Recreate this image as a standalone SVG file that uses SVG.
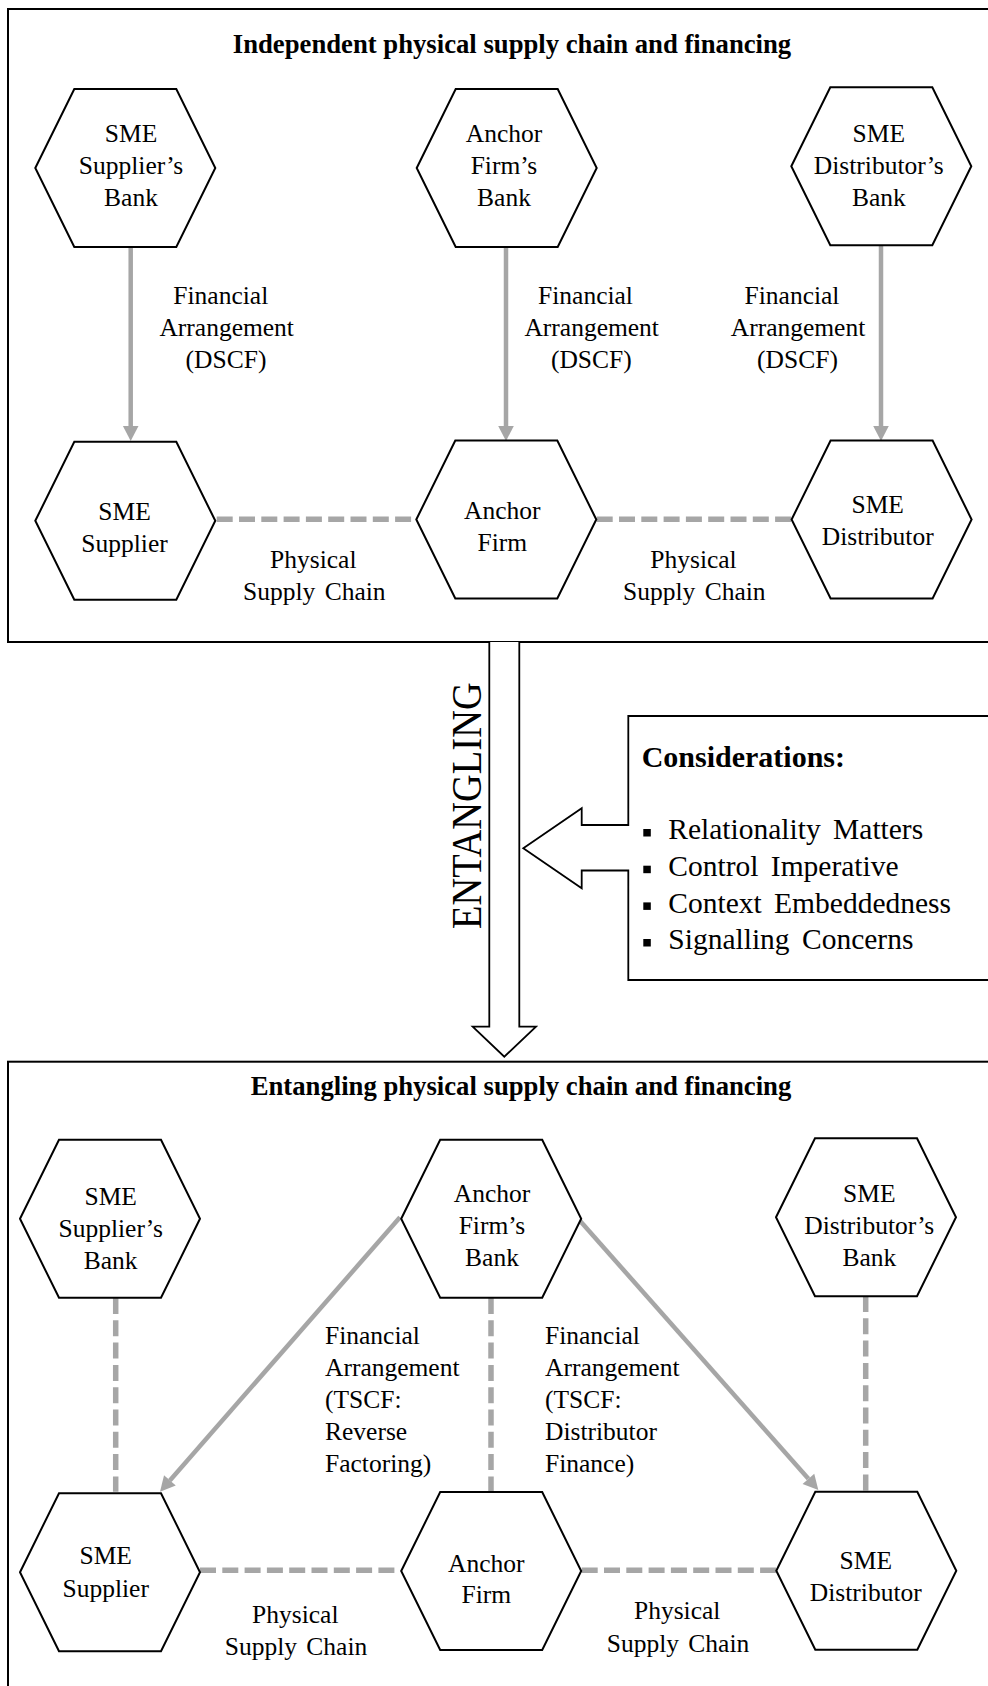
<svg xmlns="http://www.w3.org/2000/svg" width="988" height="1686" viewBox="0 0 988 1686">
<style>
  .frame{fill:none;stroke:#000;stroke-width:2}
  .hex{fill:#fff;stroke:#000;stroke-width:2;stroke-linejoin:miter}
  .t{font-family:"Liberation Serif","Times New Roman",serif;font-size:25.5px;fill:#000}
  .m{text-anchor:middle}
  .b{font-weight:bold}
  .fin{fill:none;stroke:#A6A6A6;stroke-width:4.5;marker-end:url(#ah)}
  .phy{fill:none;stroke:#A6A6A6;stroke-width:5.5;stroke-dasharray:16 6.3}
  .big{fill:#fff;stroke:#000;stroke-width:1.8;stroke-linejoin:miter}
</style>
<defs>
  <polygon id="hex" points="-90,0 -51,-79 51,-79 90,0 51,79 -51,79"/>
  <marker id="ah" markerUnits="userSpaceOnUse" markerWidth="16" markerHeight="16" viewBox="0 -8 16 16" refX="0" refY="0" orient="auto" overflow="visible">
    <path d="M0,-7.8 L15,0 L0,7.8 Z" fill="#A6A6A6"/>
  </marker>
</defs>

<rect width="988" height="1686" fill="#fff"/>

<!-- panel frames (open to the right) -->
<g id="frames">
  <rect class="frame" x="8" y="9" width="1000" height="633"/>
  <rect class="frame" x="8" y="1061.7" width="1000" height="700"/>
  <text class="t b m" x="512" y="53.3" style="font-size:26.7px">Independent physical supply chain and financing</text>
  <text class="t b m" x="521" y="1095" style="font-size:26.7px">Entangling physical supply chain and financing</text>
</g>

<!-- transition arrow and considerations callout -->
<g id="entangling">
  <path class="big" d="M489.3,642 L489.3,1026.7 L472.7,1026.7 L504.3,1056.7 L536,1026.7 L519.3,1026.7 L519.3,642"/>
  <text class="t" transform="translate(480.5,929) rotate(-90) scale(0.915,1)" style="font-size:42px">ENTANGLING</text>
</g>
<g id="considerations">
  <path class="big" d="M1000,716 L628.3,716 L628.3,825 L581.7,825 L581.7,808.3 L523.3,848.3 L581.7,888.3 L581.7,870.5 L628.3,870.5 L628.3,980 L1000,980"/>
  <text class="t b" x="641.7" y="766.7" style="font-size:30px">Considerations:</text>
  <g fill="#000">
    <rect x="643.3" y="829" width="7.5" height="7.5"/>
    <rect x="643.3" y="865.7" width="7.5" height="7.5"/>
    <rect x="643.3" y="902.4" width="7.5" height="7.5"/>
    <rect x="643.3" y="939" width="7.5" height="7.5"/>
  </g>
  <text class="t" style="font-size:29.5px;word-spacing:5px">
    <tspan x="668.3" y="839.3">Relationality Matters</tspan>
    <tspan x="668.3" y="876">Control Imperative</tspan>
    <tspan x="668.3" y="912.7">Context Embeddedness</tspan>
    <tspan x="668.3" y="949.3">Signalling Concerns</tspan>
  </text>
</g>

<!-- connectors -->
<g id="connectors">
  <!-- independent: bank to firm financing -->
  <path class="fin" d="M130.7,247 V426"/>
  <path class="fin" d="M506,247 V426"/>
  <path class="fin" d="M881,245 V426"/>
  <!-- independent: physical chain -->
  <path class="phy" d="M216.7,519.3 H413.3"/>
  <path class="phy" d="M596.7,519.3 H791.7"/>
  <!-- entangled: anchor bank finances both SMEs -->
  <path class="fin" d="M400,1217.3 L169.9,1480.4"/>
  <path class="fin" d="M579.3,1220 L808.4,1478.8"/>
  <!-- entangled: dormant bank links -->
  <path class="phy" d="M115.7,1298 V1491.7"/>
  <path class="phy" d="M491,1298 V1492"/>
  <path class="phy" d="M865.7,1296 V1492"/>
  <!-- entangled: physical chain -->
  <path class="phy" d="M200,1570.3 H400"/>
  <path class="phy" d="M581.7,1570.3 H776"/>
</g>

<!-- connector labels -->
<g id="labels">
  <text class="t m"><tspan x="220.8" y="304">Financial</tspan><tspan x="226.7" y="336">Arrangement</tspan><tspan x="226" y="368">(DSCF)</tspan></text>
  <text class="t m"><tspan x="585.5" y="304">Financial</tspan><tspan x="591.7" y="336">Arrangement</tspan><tspan x="591.3" y="368">(DSCF)</tspan></text>
  <text class="t m"><tspan x="792" y="304">Financial</tspan><tspan x="798" y="336">Arrangement</tspan><tspan x="797.5" y="368">(DSCF)</tspan></text>
  <text class="t m" style="word-spacing:3px"><tspan x="313.3" y="568.3">Physical</tspan><tspan x="314.3" y="600">Supply Chain</tspan></text>
  <text class="t m" style="word-spacing:3px"><tspan x="693.5" y="568.3">Physical</tspan><tspan x="694.3" y="600">Supply Chain</tspan></text>
  <text class="t"><tspan x="325" y="1343.5">Financial</tspan><tspan x="325" y="1375.5">Arrangement</tspan><tspan x="325" y="1407.5">(TSCF:</tspan><tspan x="325" y="1439.5">Reverse</tspan><tspan x="325" y="1471.5">Factoring)</tspan></text>
  <text class="t"><tspan x="545" y="1343.5">Financial</tspan><tspan x="545" y="1375.5">Arrangement</tspan><tspan x="545" y="1407.5">(TSCF:</tspan><tspan x="545" y="1439.5">Distributor</tspan><tspan x="545" y="1471.5">Finance)</tspan></text>
  <text class="t m" style="word-spacing:3px"><tspan x="295.3" y="1623.3">Physical</tspan><tspan x="296" y="1655">Supply Chain</tspan></text>
  <text class="t m" style="word-spacing:3px"><tspan x="677.2" y="1619.3">Physical</tspan><tspan x="678" y="1651.7">Supply Chain</tspan></text>
</g>

<!-- independent arrangement nodes -->
<g id="ind-supplier-bank">
  <use href="#hex" class="hex" x="125.3" y="168"/>
  <text class="t m"><tspan x="131" y="142">SME</tspan><tspan x="131" y="174">Supplier’s</tspan><tspan x="131" y="206">Bank</tspan></text>
</g>
<g id="ind-anchor-bank">
  <use href="#hex" class="hex" x="506.7" y="168"/>
  <text class="t m"><tspan x="504" y="142">Anchor</tspan><tspan x="504" y="174">Firm’s</tspan><tspan x="504" y="206">Bank</tspan></text>
</g>
<g id="ind-distributor-bank">
  <use href="#hex" class="hex" x="881.3" y="166.2"/>
  <text class="t m"><tspan x="878.8" y="142">SME</tspan><tspan x="878.8" y="174">Distributor’s</tspan><tspan x="878.8" y="206">Bank</tspan></text>
</g>
<g id="ind-supplier">
  <use href="#hex" class="hex" x="125.3" y="520.8"/>
  <text class="t m"><tspan x="124.5" y="520">SME</tspan><tspan x="124.5" y="551.7">Supplier</tspan></text>
</g>
<g id="ind-anchor">
  <use href="#hex" class="hex" x="506.3" y="519.5"/>
  <text class="t m"><tspan x="502.3" y="519">Anchor</tspan><tspan x="502.3" y="550.7">Firm</tspan></text>
</g>
<g id="ind-distributor">
  <use href="#hex" class="hex" x="881.6" y="519.5"/>
  <text class="t m"><tspan x="877.7" y="513.3">SME</tspan><tspan x="877.7" y="545">Distributor</tspan></text>
</g>

<!-- entangled arrangement nodes -->
<g id="ent-supplier-bank">
  <use href="#hex" class="hex" x="110" y="1218.8"/>
  <text class="t m"><tspan x="110.7" y="1204.5">SME</tspan><tspan x="110.7" y="1236.5">Supplier’s</tspan><tspan x="110.7" y="1268.5">Bank</tspan></text>
</g>
<g id="ent-anchor-bank">
  <use href="#hex" class="hex" x="491.2" y="1218.8"/>
  <text class="t m"><tspan x="492" y="1202">Anchor</tspan><tspan x="492" y="1234">Firm’s</tspan><tspan x="492" y="1266">Bank</tspan></text>
</g>
<g id="ent-distributor-bank">
  <use href="#hex" class="hex" x="866" y="1217.2"/>
  <text class="t m"><tspan x="869.3" y="1202">SME</tspan><tspan x="869.3" y="1234.3">Distributor’s</tspan><tspan x="869.3" y="1266">Bank</tspan></text>
</g>
<g id="ent-supplier">
  <use href="#hex" class="hex" x="110" y="1572.2"/>
  <text class="t m"><tspan x="105.7" y="1564.3">SME</tspan><tspan x="105.7" y="1596.7">Supplier</tspan></text>
</g>
<g id="ent-anchor">
  <use href="#hex" class="hex" x="491.2" y="1571"/>
  <text class="t m"><tspan x="486.3" y="1571.7">Anchor</tspan><tspan x="486.3" y="1603.3">Firm</tspan></text>
</g>
<g id="ent-distributor">
  <use href="#hex" class="hex" x="866.3" y="1570.8"/>
  <text class="t m"><tspan x="865.8" y="1569.3">SME</tspan><tspan x="865.8" y="1600.7">Distributor</tspan></text>
</g>
</svg>
